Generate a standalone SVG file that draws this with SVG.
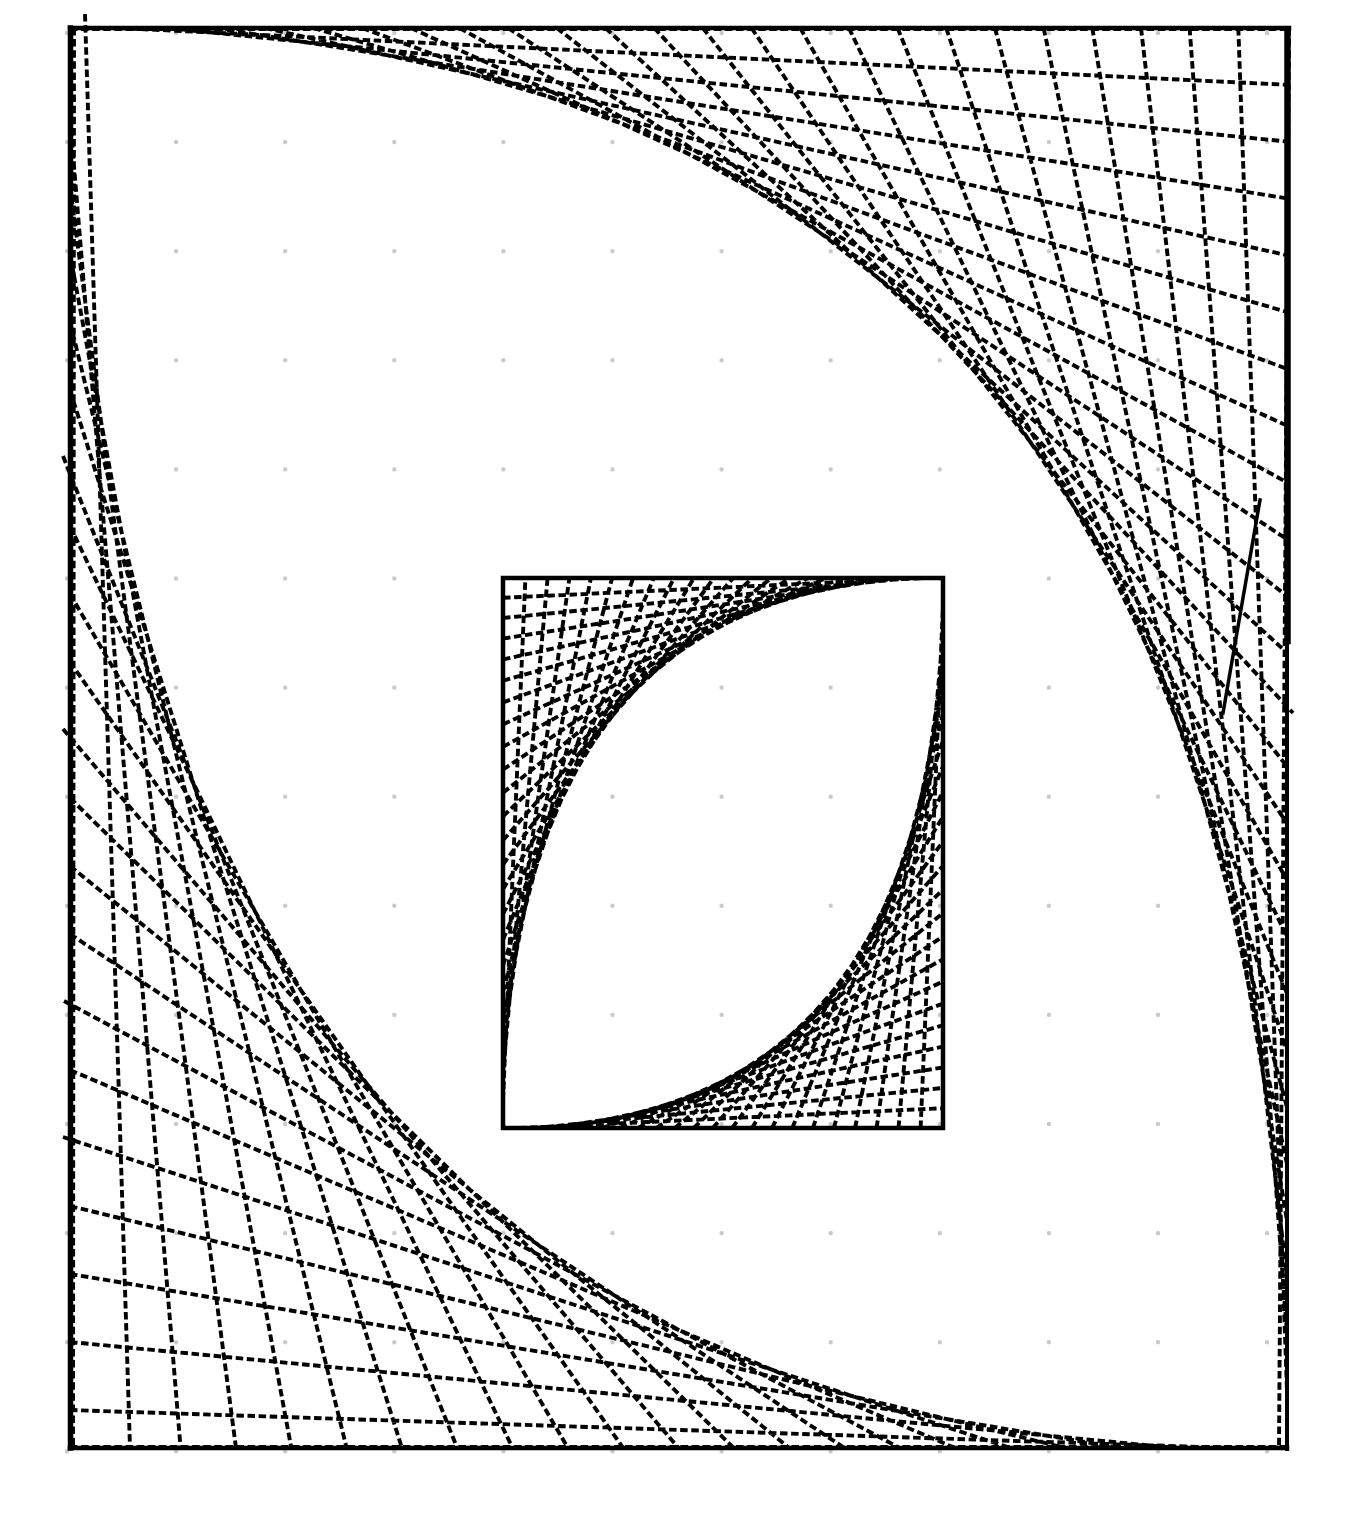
<svg xmlns="http://www.w3.org/2000/svg" width="1362" height="1523" viewBox="0 0 1362 1523">
<style>
.d{fill:none;stroke:#000;stroke-width:3.9;stroke-dasharray:7.5 3.6}
.s{fill:none;stroke:#000;stroke-linecap:square}
</style>
<defs>
<pattern id="grid" patternUnits="userSpaceOnUse" x="12.45" y="-21.55" width="109.1" height="109.1">
<circle cx="54.55" cy="54.55" r="2.2" fill="#c8c8c8"/>
</pattern>
</defs>
<rect width="1362" height="1523" fill="#fff"/>
<rect width="1362" height="1523" fill="url(#grid)"/>
<g id="outer-upper-right">
<path class="d" d="M70 29L1287 29M118.7 28L1287 84.8M167.4 28L1287 141.6M216 28L1287 198.4M264.7 28L1287 255.2M313.4 28L1287 312M362.1 28L1287 368.8M410.8 28L1287 425.6M459.4 28L1287 482.4M508.1 28L1287 539.2M556.8 28L1287 596M605.5 28L1287 652.8M654.2 28L1293 713M702.8 28L1287 766.4M751.5 28L1287 823.2M800.2 28L1287 880M848.9 28L1287 936.8M897.6 28L1287 993.6M946.2 28L1287 1050.4M994.9 28L1287 1107.2M1043.6 28L1287 1164M1092.3 28L1287 1220.8M1141 28L1287 1277.6M1189.6 28L1287 1334.4M1238.3 28L1287 1391.2M1289 28L1279 1447"/>
</g>
<g id="outer-lower-left">
<path class="d" d="M74 28L73 1448M85 14L130 1448M70 118L180.6 1448M70 186L236 1448M70 254L291.3 1448M70 322L346.6 1448M70 390L401.9 1448M63 456L457.2 1448M70 526L512.6 1448M70 594L567.9 1448M70 662L623.2 1448M63 729L678.5 1448M70 798L733.8 1448M70 866L789.2 1448M70 934L844.5 1448M64 1001L899.8 1448M70 1070L955.1 1448M63 1137L1010.4 1448M70 1206L1065.8 1448M70 1274L1121.1 1448M70 1342L1176.4 1448M70 1410L1231.7 1448M70 1447L1287 1447"/>
</g>
<g id="inner-upper-left">
<path class="d" d="M503 1100L525.4 578M503 1072.3L547.6 578M503 1045L569.4 578M503 1018.1L590.9 578M503 991.6L612.1 578M503 965.4L633.1 578M503 939.7L653.7 578M503 914.2L674 578M503 889.2L694 578M503 864.5L713.8 578M503 840.3L733.2 578M503 816.3L752.3 578M503 792.8L771.2 578M503 769.6L789.7 578M503 746.9L807.9 578M503 724.4L825.9 578M503 702.4L843.5 578M503 680.7L860.8 578M503 659.4L877.9 578M503 638.5L894.6 578M503 618L911 578M503 597.8L927.2 578"/>
</g>
<g id="inner-lower-right">
<path class="d" d="M920.6 1128L943 606M898.5 1128L943 633.7M876.6 1128L943 661M855.1 1128L943 687.9M833.9 1128L943 714.4M812.9 1128L943 740.6M792.3 1128L943 766.4M772 1128L943 791.8M752 1128L943 816.8M732.2 1128L943 841.5M712.8 1128L943 865.7M693.7 1128L943 889.7M674.8 1128L943 913.2M656.3 1128L943 936.4M638.1 1128L943 959.2M620.2 1128L943 981.6M602.5 1128L943 1003.6M585.2 1128L943 1025.3M568.1 1128L943 1046.6M551.4 1128L943 1067.5M535 1128L943 1088M518.8 1128L943 1108.2"/>
</g>
<g id="frame">
<path class="s" stroke-width="5.5" d="M70.5 28L70.5 1448"/>
<path class="s" stroke-width="4.5" d="M70 28L1289 28"/>
<path class="s" stroke-width="4.5" d="M70 1448L1287 1448"/>
<path class="s" stroke-width="4" d="M1287 28L1287 1449"/>
<path class="s" stroke-width="6.5" d="M1287.5 30L1287.5 641"/>
<rect class="s" stroke-width="4.5" x="503" y="578" width="440" height="550"/>
<path class="s" stroke-width="3.5" d="M1260 500L1223 713"/>
</g>
</svg>
